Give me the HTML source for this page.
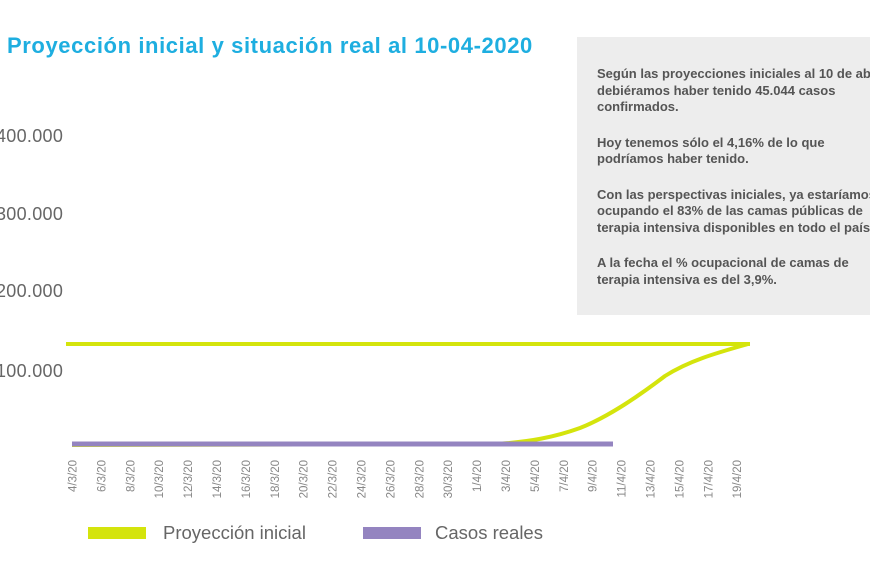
<!DOCTYPE html>
<html><head><meta charset="utf-8"><style>
body{margin:0;width:870px;height:580px;background:#fff;overflow:hidden;position:relative;font-family:"Liberation Sans",sans-serif}
.t{position:absolute;left:7px;top:33px;font-size:22px;font-weight:bold;color:#1eaee0;white-space:nowrap;letter-spacing:0.6px}
.box{position:absolute;left:577px;top:37px;width:300px;height:278px;background:#ededed}
.box p{margin:0 0 19px 0;font-size:13px;line-height:16.5px;color:#555;font-weight:bold;white-space:nowrap}
.box div{position:absolute;left:20px;top:29px}
.y{position:absolute;left:-4px;font-size:18px;color:#666;letter-spacing:0.3px}
</style></head><body>
<div class="t">Proyección inicial y situación real al 10-04-2020</div>
<div class="box"><div>
<p>Según las proyecciones iniciales al 10 de abril<br>debiéramos haber tenido 45.044 casos<br>confirmados.</p>
<p>Hoy tenemos sólo el 4,16% de lo que<br>podríamos haber tenido.</p>
<p>Con las perspectivas iniciales, ya estaríamos<br>ocupando el 83% de las camas públicas de<br>terapia intensiva disponibles en todo el país.</p>
<p>A la fecha el % ocupacional de camas de<br>terapia intensiva es del 3,9%.</p>
</div></div>
<div class="y" style="top:126px">400.000</div>
<div class="y" style="top:204px">300.000</div>
<div class="y" style="top:281px">200.000</div>
<div class="y" style="top:361px">100.000</div>
<svg width="870" height="580" style="position:absolute;left:0;top:0">
<line x1="66" y1="344" x2="750" y2="344" stroke="#d4e40c" stroke-width="4"/>
<path d="M72 445 L495 444 C530 442 555 437 580 428 C610 416 640 395 665 376 C690 360 720 352 748 344" fill="none" stroke="#d4e40c" stroke-width="4"/>
<line x1="72" y1="444" x2="613" y2="444" stroke="#9484c0" stroke-width="5"/>
<g font-size="11.5" fill="#888" font-family="Liberation Sans,sans-serif" text-anchor="end">
<text transform="translate(76.5,460) rotate(-90)">4/3/20</text>
<text transform="translate(105.4,460) rotate(-90)">6/3/20</text>
<text transform="translate(134.3,460) rotate(-90)">8/3/20</text>
<text transform="translate(163.2,460) rotate(-90)">10/3/20</text>
<text transform="translate(192.1,460) rotate(-90)">12/3/20</text>
<text transform="translate(221,460) rotate(-90)">14/3/20</text>
<text transform="translate(249.9,460) rotate(-90)">16/3/20</text>
<text transform="translate(278.8,460) rotate(-90)">18/3/20</text>
<text transform="translate(307.7,460) rotate(-90)">20/3/20</text>
<text transform="translate(336.6,460) rotate(-90)">22/3/20</text>
<text transform="translate(365.5,460) rotate(-90)">24/3/20</text>
<text transform="translate(394.4,460) rotate(-90)">26/3/20</text>
<text transform="translate(423.3,460) rotate(-90)">28/3/20</text>
<text transform="translate(452.2,460) rotate(-90)">30/3/20</text>
<text transform="translate(481.1,460) rotate(-90)">1/4/20</text>
<text transform="translate(510,460) rotate(-90)">3/4/20</text>
<text transform="translate(538.9,460) rotate(-90)">5/4/20</text>
<text transform="translate(567.8,460) rotate(-90)">7/4/20</text>
<text transform="translate(596.7,460) rotate(-90)">9/4/20</text>
<text transform="translate(625.6,460) rotate(-90)">11/4/20</text>
<text transform="translate(654.5,460) rotate(-90)">13/4/20</text>
<text transform="translate(683.4,460) rotate(-90)">15/4/20</text>
<text transform="translate(712.3,460) rotate(-90)">17/4/20</text>
<text transform="translate(741.2,460) rotate(-90)">19/4/20</text>
</g>
<rect x="88" y="527" width="58" height="12" fill="#d4e40c"/>
<rect x="363" y="527" width="58" height="12" fill="#9484c0"/>
<text x="163" y="539" font-size="18.5" fill="#666">Proyección inicial</text>
<text x="435" y="539" font-size="18.5" fill="#666">Casos reales</text>
</svg>
</body></html>
